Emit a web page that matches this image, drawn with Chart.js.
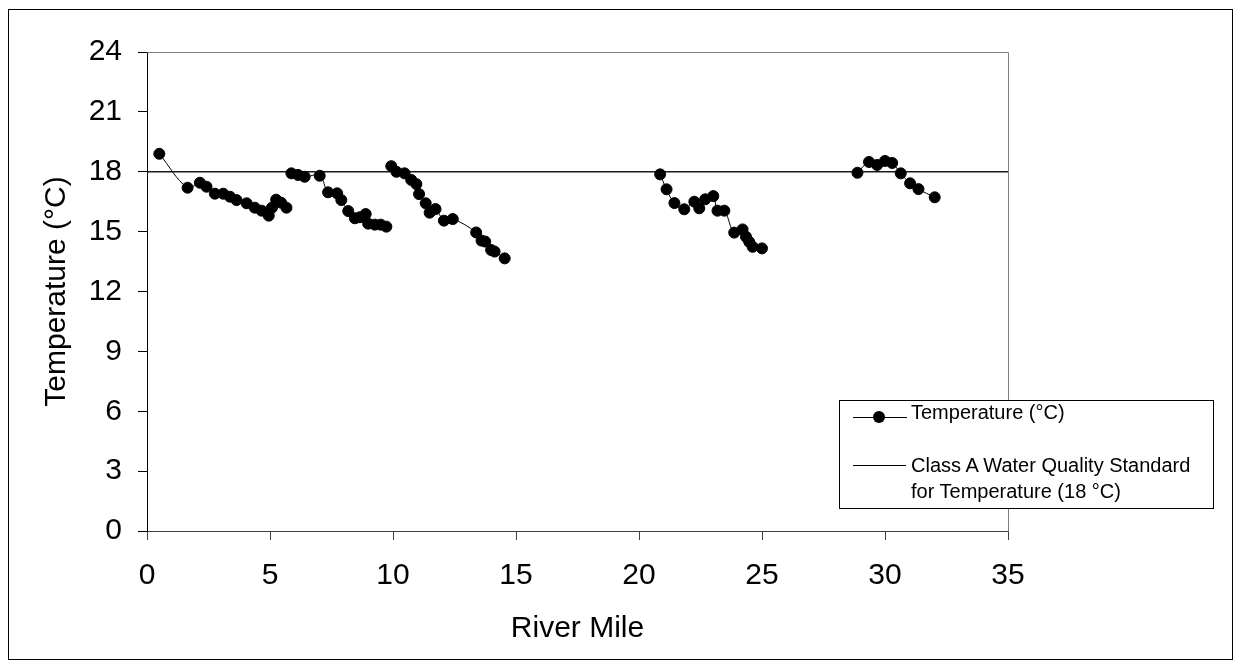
<!DOCTYPE html>
<html>
<head>
<meta charset="utf-8">
<script src="https://cdn.jsdelivr.net/npm/chart.js@4.4.1/dist/chart.umd.min.js"></script>
<style>
html,body{margin:0;padding:0;background:#fff;}
#wrap{position:relative;width:1241px;height:668px;overflow:hidden;font-family:"Liberation Sans",Arial,sans-serif;background:#fff;}
#frame{position:absolute;left:8px;top:9px;width:1223px;height:649px;border:1px solid #000;pointer-events:none;}
#chart{position:absolute;left:0;top:0;}
#legend{position:absolute;left:839px;top:400px;width:373px;height:107px;border:1px solid #000;background:#fff;color:#000;font-size:20px;line-height:26px;}
.lline{position:absolute;height:1px;background:#000;}
.lmark{position:absolute;width:12px;height:12px;border-radius:50%;background:#000;}
.ltext{position:absolute;left:71px;white-space:nowrap;}
</style>
</head>
<body>
<div id="wrap">
  <canvas id="chart" width="1241" height="668"></canvas>
  <div id="frame"></div>
  <div id="legend">
    <div class="lline" style="left:13px;top:16px;width:54px;"></div>
    <div class="lmark" style="left:33px;top:10px;"></div>
    <div class="ltext" style="top:-2px;">Temperature (°C)</div>
    <div class="lline" style="left:13px;top:64px;width:53px;"></div>
    <div class="ltext" style="top:51px;">Class A Water Quality Standard<br>for Temperature (18 °C)</div>
  </div>
</div>
<script>
// ---- data (null marks a break between survey segments) ----
const riverMile = [
  0.5, 1.65, 2.15, 2.42, 2.76, 3.1, 3.37, 3.64, 4.05, 4.38, 4.66, 4.95, 5.08, 5.25, 5.45, 5.67,
  null,
  5.87, 6.14, 6.41, 7.02, 7.36, 7.73, 7.9, 8.18, 8.45, 8.65, 8.89, 8.99, 9.26, 9.5, 9.73,
  null,
  9.93, 10.14, 10.47, 10.74, 10.95, 11.06, 11.33, 11.49, 11.73, 12.07, 12.43, 13.38, 13.6, 13.75, 13.99, 14.13, 14.54,
  null,
  20.86, 21.12, 21.44, 21.84, 22.25, 22.45, 22.69, 23.02, 23.19, 23.47, 23.87, 24.21, 24.35, 24.48, 24.62, 25.0,
  null,
  28.88, 29.35, 29.68, 30.0, 30.29, 30.64, 31.02, 31.36, 32.02
];
const temperature = [
  18.9, 17.2, 17.45, 17.25, 16.9, 16.9, 16.75, 16.58, 16.42, 16.2, 16.05, 15.8, 16.2, 16.6, 16.45, 16.2,
  null,
  17.92, 17.84, 17.75, 17.8, 16.97, 16.92, 16.58, 16.03, 15.67, 15.72, 15.88, 15.4, 15.35, 15.35, 15.25,
  null,
  18.28, 18.0, 17.92, 17.59, 17.38, 16.88, 16.42, 15.95, 16.13, 15.55, 15.63, 14.96, 14.55, 14.5, 14.08, 14.0, 13.66,
  null,
  17.87, 17.12, 16.43, 16.12, 16.5, 16.17, 16.62, 16.78, 16.05, 16.05, 14.95, 15.11, 14.74, 14.49, 14.24, 14.16,
  null,
  17.95, 18.49, 18.34, 18.54, 18.44, 17.92, 17.42, 17.13, 16.72
];
const standardMile = [0, 35];
const standardTemp = [18, 18];
const xTickValues = [0, 5, 10, 15, 20, 25, 30, 35];
const yTickValues = [0, 3, 6, 9, 12, 15, 18, 21, 24];

const FONT = '"Liberation Sans", Arial, sans-serif';

const plotFrame = {
  id: 'plotFrame',
  beforeDatasetsDraw(chart) {
    const {ctx, chartArea: a} = chart;
    ctx.save();
    ctx.strokeStyle = '#808080';
    ctx.lineWidth = 1;
    ctx.beginPath();
    ctx.moveTo(Math.round(a.left) + 0.5, Math.round(a.top) + 0.5);
    ctx.lineTo(Math.round(a.right) + 0.5, Math.round(a.top) + 0.5);
    ctx.lineTo(Math.round(a.right) + 0.5, Math.round(a.bottom) + 0.5);
    ctx.stroke();
    ctx.restore();
  }
};

new Chart(document.getElementById('chart'), {
  type: 'line',
  data: {
    datasets: [
      {
        label: 'Temperature (°C)',
        data: riverMile.map((m, i) => ({x: m, y: temperature[i]})),
        borderColor: '#000',
        borderWidth: 1,
        backgroundColor: '#000',
        pointRadius: 5.5,
        pointBorderWidth: 1,
        pointBackgroundColor: '#000',
        pointBorderColor: '#000',
        tension: 0.4,
        spanGaps: false,
        order: 0
      },
      {
        label: 'Class A Water Quality Standard for Temperature (18 °C)',
        data: standardMile.map((m, i) => ({x: m, y: standardTemp[i]})),
        borderColor: '#1a1a1a',
        borderWidth: 1.5,
        pointRadius: 0,
        tension: 0,
        order: 1
      }
    ]
  },
  options: {
    responsive: false,
    animation: false,
    devicePixelRatio: 1,
    layout: {padding: {left: 39, right: 233, top: 52, bottom: 21}},
    plugins: {legend: {display: false}, tooltip: {enabled: false}},
    scales: {
      x: {
        type: 'linear',
        min: 0, max: 35,
        afterBuildTicks: s => { s.ticks = xTickValues.map(v => ({value: v})); },
        afterFit: s => { s.height = 116; },
        grid: {display: true, drawOnChartArea: false, drawTicks: true, tickLength: 9, color: '#404040', lineWidth: 1},
        border: {display: true, color: '#404040', width: 1},
        ticks: {font: {family: FONT, size: 30}, color: '#000', padding: 18, maxRotation: 0, autoSkip: false},
        title: {display: true, text: 'River Mile', font: {family: FONT, size: 30}, color: '#000', padding: 0}
      },
      y: {
        type: 'linear',
        min: 0, max: 24,
        afterBuildTicks: s => { s.ticks = yTickValues.map(v => ({value: v})); },
        afterFit: s => { s.width = 108; },
        grid: {display: true, drawOnChartArea: false, drawTicks: true, tickLength: 9, color: '#000', lineWidth: 1},
        border: {display: true, color: '#000', width: 1},
        ticks: {font: {family: FONT, size: 30}, color: '#000', padding: 16, autoSkip: false},
        title: {display: true, text: 'Temperature (°C)', font: {family: FONT, size: 30}, color: '#000', padding: 0}
      }
    }
  },
  plugins: [plotFrame]
});
</script>
</body>
</html>
